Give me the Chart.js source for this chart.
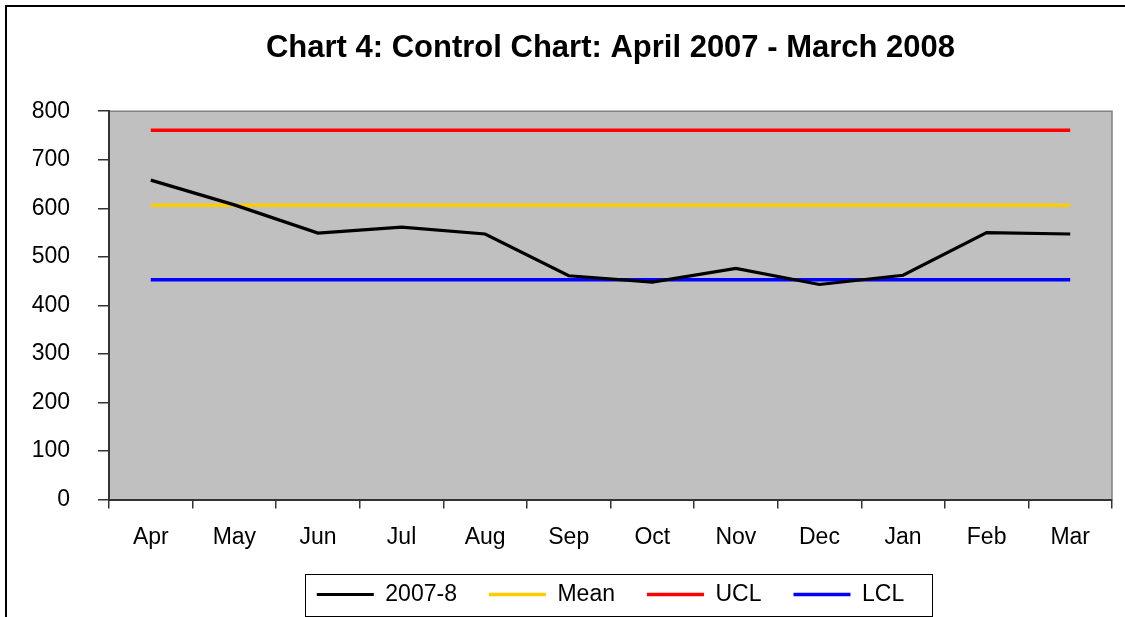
<!DOCTYPE html>
<html>
<head>
<meta charset="utf-8">
<script src="https://cdn.jsdelivr.net/npm/chart.js@4.4.1/dist/chart.umd.min.js"></script>
<style>
  html, body { margin: 0; padding: 0; background: #fff; }
  #wrap { width: 1125px; height: 617px; }
</style>
</head>
<body>
<div id="wrap"><canvas id="control_chart" width="1125" height="617"></canvas></div>
<script>
const months = ['Apr', 'May', 'Jun', 'Jul', 'Aug', 'Sep', 'Oct', 'Nov', 'Dec', 'Jan', 'Feb', 'Mar'];
const year_2007_8 = [658, 607, 549, 561, 547, 461, 448, 476, 443, 462, 550, 547];
const mean = [606, 606, 606, 606, 606, 606, 606, 606, 606, 606, 606, 606];
const ucl = [761, 761, 761, 761, 761, 761, 761, 761, 761, 761, 761, 761];
const lcl = [453, 453, 453, 453, 453, 453, 453, 453, 453, 453, 453, 453];
const y_ticks = [0, 100, 200, 300, 400, 500, 600, 700, 800];

const FONT = 'Arial, "Liberation Sans", sans-serif';

// grey plot area, outer frame, top/right plot border and legend box
const chartDecor = {
  id: 'chartDecor',
  beforeDraw(chart) {
    const ctx = chart.ctx;
    const a = chart.chartArea;
    ctx.save();
    ctx.fillStyle = '#C0C0C0';
    ctx.fillRect(a.left, a.top, a.right - a.left, a.bottom - a.top);
    ctx.strokeStyle = '#808080';
    ctx.lineWidth = 1.5;
    ctx.beginPath();
    ctx.moveTo(a.left, a.top);
    ctx.lineTo(a.right, a.top);
    ctx.lineTo(a.right, a.bottom);
    ctx.stroke();
    ctx.strokeStyle = '#000';
    ctx.lineWidth = 2;
    ctx.beginPath();
    ctx.moveTo(6, 617);
    ctx.lineTo(6, 6);
    ctx.lineTo(1125, 6);
    ctx.stroke();
    ctx.restore();
  },
  afterDraw(chart) {
    const boxes = chart.legend && chart.legend.legendHitBoxes;
    if (!boxes || !boxes.length) return;
    const first = boxes[0];
    const last = boxes[boxes.length - 1];
    const cy = first.top + first.height / 2;
    const ctx = chart.ctx;
    ctx.save();
    ctx.strokeStyle = '#000';
    ctx.lineWidth = 1;
    ctx.strokeRect(Math.round(first.left - 12) + 0.5, Math.round(cy - 21) + 0.5,
      Math.round(last.left + last.width + 28 - (first.left - 12)), 42);
    ctx.restore();
  }
};

new Chart(document.getElementById('control_chart'), {
  type: 'line',
  data: {
    labels: months,
    datasets: [
      { label: '2007-8', data: year_2007_8, borderColor: '#000000', backgroundColor: '#000000', borderWidth: 3.2 },
      { label: 'Mean', data: mean, borderColor: '#FFCC00', backgroundColor: '#FFCC00', borderWidth: 3.5 },
      { label: 'UCL', data: ucl, borderColor: '#FF0000', backgroundColor: '#FF0000', borderWidth: 3.5 },
      { label: 'LCL', data: lcl, borderColor: '#0000FF', backgroundColor: '#0000FF', borderWidth: 3.5 },
    ]
  },
  options: {
    responsive: false,
    animation: false,
    devicePixelRatio: 1,
    layout: { padding: { left: 0, right: 13, top: 0, bottom: 1 } },
    elements: {
      point: { radius: 0, hoverRadius: 0 },
      line: { tension: 0, fill: false }
    },
    plugins: {
      title: {
        display: true,
        fullSize: false,
        text: 'Chart 4: Control Chart: April 2007 - March 2008',
        color: '#000',
        font: { family: FONT, size: 31, weight: 'bold' },
        padding: { top: 30, bottom: 44 }
      },
      legend: {
        position: 'bottom',
        fullSize: false,
        labels: {
          usePointStyle: true,
          pointStyle: 'line',
          pointStyleWidth: 57,
          padding: 32,
          color: '#000',
          font: { family: FONT, size: 23 }
        }
      },
      tooltip: { enabled: false }
    },
    scales: {
      x: {
        offset: true,
        afterFit(scale) { scale.height = 51.5; },
        grid: { offset: true, drawOnChartArea: false, drawTicks: true, tickLength: 9, color: '#333', lineWidth: 1.5 },
        border: { display: true, color: '#333', width: 2 },
        ticks: { color: '#000', padding: 15, maxRotation: 0, font: { family: FONT, size: 23 } }
      },
      y: {
        min: 0,
        max: 800,
        afterFit(scale) { scale.width = 109; },
        afterBuildTicks(scale) { scale.ticks = y_ticks.map(v => ({ value: v })); },
        grid: { drawOnChartArea: false, drawTicks: true, tickLength: 11, color: '#333', lineWidth: 1.5 },
        border: { display: true, color: '#333', width: 2 },
        ticks: { color: '#000', padding: 28, font: { family: FONT, size: 23 } }
      }
    }
  },
  plugins: [chartDecor]
});
</script>
</body>
</html>
